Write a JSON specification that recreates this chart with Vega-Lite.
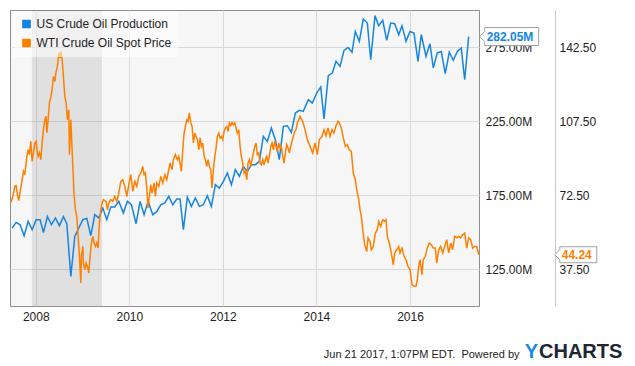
{
"$schema": "https://vega.github.io/schema/vega-lite/v6.json",
"width": 469, "height": 296,
"autosize": {"type": "none"},
"padding": {"left": 10, "top": 10, "right": 156, "bottom": 60},
"background": "white",
"config": {
 "view": {"fill": "#f6f6f6", "stroke": "#8f8f8f", "strokeWidth": 1},
 "font": "Liberation Sans",
 "axis": {"labelFont": "Liberation Sans", "labelFontSize": 12, "labelColor": "#222", "ticks": false, "tickSize": 0, "domain": false, "gridColor": "#d9d9d9", "gridWidth": 1, "titleFont": "Liberation Sans"},
 "legend": {"labelFont": "Liberation Sans", "labelFontSize": 12, "labelColor": "#222"}
},
"datasets": {
 "recession": [{"t": 2007.917, "t2": 2009.417}],
 "production": [
{"t":2007.496,"v":152.7},{"t":2007.581,"v":156.5},{"t":2007.667,"v":154.9},{"t":2007.752,"v":147.5},{"t":2007.838,"v":157.2},{"t":2007.923,"v":151.6},{"t":2008.009,"v":158.3},{"t":2008.094,"v":158.3},{"t":2008.165,"v":149.7},{"t":2008.250,"v":160.5},{"t":2008.335,"v":154.9},{"t":2008.421,"v":159.5},{"t":2008.506,"v":154.3},{"t":2008.592,"v":160.5},{"t":2008.665,"v":155.6},{"t":2008.750,"v":120.0},{"t":2008.835,"v":147.0},{"t":2008.921,"v":152.7},{"t":2009.006,"v":158.3},{"t":2009.092,"v":159.2},{"t":2009.177,"v":147.5},{"t":2009.263,"v":161.7},{"t":2009.348,"v":159.5},{"t":2009.434,"v":166.2},{"t":2009.519,"v":158.3},{"t":2009.605,"v":166.9},{"t":2009.690,"v":166.9},{"t":2009.776,"v":170.7},{"t":2009.874,"v":162.8},{"t":2009.959,"v":170.7},{"t":2010.045,"v":168.4},{"t":2010.145,"v":155.6},{"t":2010.231,"v":170.7},{"t":2010.316,"v":161.7},{"t":2010.402,"v":170.7},{"t":2010.502,"v":161.7},{"t":2010.588,"v":163.9},{"t":2010.673,"v":168.4},{"t":2010.759,"v":169.6},{"t":2010.844,"v":174.1},{"t":2010.929,"v":168.4},{"t":2011.015,"v":172.3},{"t":2011.085,"v":172.3},{"t":2011.156,"v":151.6},{"t":2011.241,"v":173.6},{"t":2011.327,"v":167.3},{"t":2011.412,"v":173.0},{"t":2011.498,"v":167.3},{"t":2011.583,"v":168.4},{"t":2011.669,"v":174.5},{"t":2011.754,"v":167.3},{"t":2011.840,"v":182.0},{"t":2011.925,"v":179.7},{"t":2012.011,"v":184.2},{"t":2012.096,"v":189.9},{"t":2012.182,"v":182.0},{"t":2012.267,"v":192.1},{"t":2012.353,"v":187.6},{"t":2012.438,"v":194.3},{"t":2012.524,"v":190.9},{"t":2012.609,"v":195.5},{"t":2012.694,"v":195.5},{"t":2012.780,"v":197.7},{"t":2012.865,"v":214.6},{"t":2012.951,"v":211.2},{"t":2013.036,"v":220.3},{"t":2013.122,"v":212.4},{"t":2013.207,"v":198.9},{"t":2013.293,"v":221.4},{"t":2013.378,"v":221.8},{"t":2013.464,"v":217.3},{"t":2013.549,"v":230.4},{"t":2013.635,"v":232.2},{"t":2013.718,"v":231.5},{"t":2013.827,"v":239.4},{"t":2013.912,"v":237.2},{"t":2014.006,"v":243.9},{"t":2014.092,"v":248.0},{"t":2014.162,"v":226.4},{"t":2014.254,"v":255.6},{"t":2014.340,"v":257.4},{"t":2014.419,"v":265.3},{"t":2014.504,"v":261.9},{"t":2014.590,"v":272.7},{"t":2014.675,"v":274.7},{"t":2014.761,"v":271.4},{"t":2014.831,"v":285.5},{"t":2014.917,"v":278.8},{"t":2015.002,"v":293.9},{"t":2015.088,"v":291.2},{"t":2015.160,"v":266.4},{"t":2015.252,"v":296.2},{"t":2015.331,"v":289.4},{"t":2015.417,"v":293.0},{"t":2015.502,"v":279.5},{"t":2015.588,"v":291.2},{"t":2015.673,"v":290.7},{"t":2015.759,"v":283.3},{"t":2015.829,"v":289.4},{"t":2015.915,"v":278.8},{"t":2016.000,"v":285.5},{"t":2016.085,"v":284.5},{"t":2016.171,"v":265.3},{"t":2016.241,"v":283.3},{"t":2016.342,"v":268.7},{"t":2016.427,"v":277.2},{"t":2016.498,"v":260.8},{"t":2016.583,"v":271.0},{"t":2016.669,"v":272.0},{"t":2016.754,"v":257.0},{"t":2016.840,"v":271.6},{"t":2016.925,"v":266.0},{"t":2017.011,"v":272.0},{"t":2017.096,"v":274.3},{"t":2017.169,"v":252.9},{"t":2017.254,"v":282.05}
 ],
 "price": [
{"t":2007.468,"v":69.0},{"t":2007.511,"v":71.8},{"t":2007.553,"v":76.6},{"t":2007.581,"v":76.9},{"t":2007.609,"v":72.6},{"t":2007.639,"v":69.9},{"t":2007.667,"v":74.2},{"t":2007.709,"v":79.7},{"t":2007.737,"v":83.7},{"t":2007.767,"v":82.1},{"t":2007.810,"v":90.8},{"t":2007.838,"v":93.9},{"t":2007.865,"v":91.6},{"t":2007.895,"v":97.9},{"t":2007.923,"v":88.4},{"t":2007.951,"v":92.4},{"t":2007.981,"v":97.1},{"t":2008.009,"v":97.9},{"t":2008.024,"v":93.9},{"t":2008.051,"v":90.8},{"t":2008.079,"v":92.4},{"t":2008.109,"v":89.2},{"t":2008.137,"v":97.1},{"t":2008.165,"v":103.4},{"t":2008.194,"v":108.1},{"t":2008.222,"v":109.7},{"t":2008.237,"v":101.8},{"t":2008.265,"v":108.1},{"t":2008.293,"v":116.0},{"t":2008.323,"v":118.9},{"t":2008.350,"v":122.3},{"t":2008.378,"v":128.6},{"t":2008.408,"v":126.2},{"t":2008.436,"v":131.0},{"t":2008.464,"v":133.3},{"t":2008.494,"v":139.7},{"t":2008.521,"v":137.3},{"t":2008.536,"v":140.4},{"t":2008.564,"v":136.5},{"t":2008.592,"v":128.6},{"t":2008.622,"v":119.1},{"t":2008.650,"v":116.0},{"t":2008.677,"v":108.1},{"t":2008.707,"v":112.8},{"t":2008.720,"v":91.6},{"t":2008.750,"v":108.1},{"t":2008.793,"v":86.0},{"t":2008.821,"v":71.8},{"t":2008.848,"v":65.5},{"t":2008.878,"v":62.4},{"t":2008.906,"v":52.9},{"t":2008.934,"v":43.5},{"t":2008.964,"v":30.9},{"t":2008.976,"v":43.5},{"t":2009.006,"v":48.2},{"t":2009.019,"v":40.3},{"t":2009.049,"v":37.2},{"t":2009.077,"v":40.3},{"t":2009.105,"v":38.7},{"t":2009.135,"v":35.6},{"t":2009.162,"v":43.5},{"t":2009.190,"v":49.8},{"t":2009.220,"v":52.9},{"t":2009.248,"v":49.8},{"t":2009.276,"v":48.2},{"t":2009.306,"v":49.8},{"t":2009.333,"v":47.4},{"t":2009.361,"v":59.3},{"t":2009.391,"v":65.5},{"t":2009.419,"v":68.7},{"t":2009.447,"v":70.3},{"t":2009.504,"v":69.5},{"t":2009.532,"v":65.5},{"t":2009.562,"v":68.7},{"t":2009.605,"v":70.3},{"t":2009.647,"v":69.5},{"t":2009.690,"v":71.8},{"t":2009.733,"v":69.5},{"t":2009.776,"v":73.4},{"t":2009.818,"v":78.9},{"t":2009.861,"v":79.7},{"t":2009.904,"v":76.6},{"t":2009.947,"v":71.8},{"t":2009.989,"v":77.4},{"t":2010.032,"v":82.1},{"t":2010.075,"v":74.2},{"t":2010.118,"v":78.9},{"t":2010.160,"v":76.6},{"t":2010.203,"v":81.3},{"t":2010.246,"v":82.9},{"t":2010.288,"v":86.0},{"t":2010.316,"v":82.1},{"t":2010.344,"v":82.9},{"t":2010.374,"v":75.8},{"t":2010.402,"v":66.4},{"t":2010.429,"v":71.8},{"t":2010.459,"v":77.4},{"t":2010.487,"v":73.4},{"t":2010.530,"v":78.2},{"t":2010.558,"v":71.8},{"t":2010.588,"v":78.2},{"t":2010.630,"v":76.6},{"t":2010.673,"v":81.3},{"t":2010.716,"v":78.2},{"t":2010.759,"v":82.1},{"t":2010.801,"v":79.7},{"t":2010.829,"v":82.9},{"t":2010.872,"v":87.6},{"t":2010.915,"v":84.5},{"t":2010.942,"v":89.2},{"t":2010.985,"v":91.6},{"t":2011.028,"v":89.2},{"t":2011.058,"v":90.8},{"t":2011.085,"v":87.6},{"t":2011.113,"v":83.7},{"t":2011.143,"v":93.9},{"t":2011.171,"v":101.8},{"t":2011.199,"v":104.9},{"t":2011.229,"v":108.1},{"t":2011.256,"v":107.3},{"t":2011.284,"v":111.3},{"t":2011.314,"v":106.6},{"t":2011.342,"v":104.9},{"t":2011.370,"v":97.1},{"t":2011.400,"v":101.8},{"t":2011.427,"v":100.2},{"t":2011.455,"v":98.7},{"t":2011.485,"v":93.9},{"t":2011.513,"v":99.5},{"t":2011.541,"v":95.5},{"t":2011.571,"v":97.1},{"t":2011.598,"v":90.8},{"t":2011.626,"v":89.2},{"t":2011.656,"v":86.0},{"t":2011.684,"v":89.2},{"t":2011.712,"v":86.0},{"t":2011.741,"v":84.5},{"t":2011.769,"v":75.8},{"t":2011.797,"v":84.5},{"t":2011.827,"v":90.8},{"t":2011.855,"v":94.7},{"t":2011.882,"v":100.2},{"t":2011.912,"v":101.8},{"t":2011.940,"v":99.5},{"t":2011.968,"v":100.2},{"t":2011.998,"v":98.7},{"t":2012.026,"v":102.6},{"t":2012.053,"v":104.2},{"t":2012.083,"v":104.9},{"t":2012.111,"v":102.6},{"t":2012.139,"v":106.6},{"t":2012.169,"v":105.3},{"t":2012.197,"v":106.8},{"t":2012.224,"v":105.8},{"t":2012.254,"v":106.6},{"t":2012.282,"v":104.2},{"t":2012.310,"v":101.8},{"t":2012.340,"v":103.4},{"t":2012.368,"v":95.5},{"t":2012.395,"v":90.8},{"t":2012.425,"v":87.6},{"t":2012.453,"v":82.9},{"t":2012.481,"v":83.7},{"t":2012.511,"v":79.7},{"t":2012.538,"v":87.6},{"t":2012.566,"v":89.2},{"t":2012.596,"v":86.0},{"t":2012.624,"v":89.2},{"t":2012.652,"v":92.4},{"t":2012.682,"v":95.5},{"t":2012.709,"v":97.1},{"t":2012.737,"v":91.6},{"t":2012.767,"v":92.4},{"t":2012.795,"v":87.6},{"t":2012.823,"v":86.8},{"t":2012.853,"v":89.2},{"t":2012.880,"v":86.8},{"t":2012.908,"v":89.2},{"t":2012.938,"v":90.8},{"t":2012.966,"v":87.6},{"t":2012.994,"v":90.8},{"t":2013.024,"v":95.5},{"t":2013.051,"v":97.1},{"t":2013.079,"v":93.9},{"t":2013.109,"v":97.9},{"t":2013.137,"v":95.5},{"t":2013.165,"v":93.1},{"t":2013.194,"v":97.1},{"t":2013.222,"v":94.7},{"t":2013.250,"v":95.5},{"t":2013.280,"v":90.8},{"t":2013.308,"v":87.6},{"t":2013.335,"v":92.4},{"t":2013.365,"v":96.3},{"t":2013.393,"v":94.7},{"t":2013.421,"v":92.4},{"t":2013.451,"v":95.5},{"t":2013.479,"v":97.9},{"t":2013.506,"v":100.2},{"t":2013.536,"v":102.6},{"t":2013.564,"v":103.4},{"t":2013.592,"v":106.6},{"t":2013.622,"v":108.1},{"t":2013.650,"v":109.7},{"t":2013.707,"v":107.3},{"t":2013.756,"v":103.4},{"t":2013.806,"v":98.7},{"t":2013.863,"v":95.5},{"t":2013.921,"v":92.4},{"t":2013.970,"v":97.1},{"t":2014.019,"v":91.6},{"t":2014.062,"v":98.7},{"t":2014.120,"v":100.2},{"t":2014.162,"v":103.4},{"t":2014.205,"v":100.5},{"t":2014.248,"v":104.2},{"t":2014.291,"v":100.2},{"t":2014.333,"v":103.4},{"t":2014.376,"v":101.8},{"t":2014.419,"v":105.3},{"t":2014.462,"v":107.3},{"t":2014.489,"v":106.6},{"t":2014.532,"v":104.2},{"t":2014.575,"v":99.5},{"t":2014.618,"v":95.5},{"t":2014.660,"v":96.3},{"t":2014.703,"v":93.9},{"t":2014.746,"v":93.1},{"t":2014.788,"v":82.9},{"t":2014.831,"v":79.7},{"t":2014.861,"v":75.0},{"t":2014.904,"v":70.3},{"t":2014.932,"v":65.5},{"t":2014.960,"v":62.4},{"t":2014.989,"v":56.1},{"t":2015.032,"v":49.0},{"t":2015.075,"v":45.8},{"t":2015.103,"v":52.2},{"t":2015.145,"v":50.6},{"t":2015.173,"v":46.6},{"t":2015.216,"v":48.2},{"t":2015.259,"v":54.5},{"t":2015.301,"v":56.1},{"t":2015.331,"v":60.0},{"t":2015.374,"v":57.6},{"t":2015.417,"v":60.8},{"t":2015.459,"v":60.0},{"t":2015.487,"v":60.8},{"t":2015.515,"v":52.9},{"t":2015.558,"v":49.8},{"t":2015.600,"v":45.1},{"t":2015.643,"v":39.5},{"t":2015.673,"v":45.1},{"t":2015.716,"v":46.6},{"t":2015.759,"v":48.2},{"t":2015.786,"v":45.1},{"t":2015.829,"v":47.4},{"t":2015.872,"v":43.5},{"t":2015.915,"v":41.9},{"t":2015.957,"v":38.7},{"t":2016.000,"v":37.2},{"t":2016.043,"v":30.1},{"t":2016.085,"v":29.3},{"t":2016.128,"v":29.3},{"t":2016.156,"v":32.4},{"t":2016.186,"v":38.7},{"t":2016.214,"v":41.9},{"t":2016.256,"v":34.8},{"t":2016.284,"v":41.9},{"t":2016.327,"v":43.5},{"t":2016.370,"v":47.4},{"t":2016.412,"v":49.8},{"t":2016.455,"v":49.0},{"t":2016.498,"v":47.4},{"t":2016.541,"v":47.4},{"t":2016.571,"v":40.3},{"t":2016.613,"v":46.6},{"t":2016.656,"v":48.2},{"t":2016.699,"v":45.1},{"t":2016.742,"v":48.2},{"t":2016.784,"v":51.4},{"t":2016.827,"v":45.1},{"t":2016.870,"v":49.8},{"t":2016.912,"v":46.6},{"t":2016.955,"v":52.9},{"t":2016.998,"v":52.2},{"t":2017.041,"v":52.9},{"t":2017.083,"v":52.2},{"t":2017.126,"v":53.7},{"t":2017.169,"v":54.5},{"t":2017.212,"v":47.4},{"t":2017.254,"v":52.2},{"t":2017.297,"v":51.4},{"t":2017.340,"v":47.4},{"t":2017.382,"v":48.2},{"t":2017.425,"v":48.2},{"t":2017.470,"v":44.24}
 ]
},
"encoding": {
 "x": {"field": "t", "type": "quantitative",
  "scale": {"domain": [2007.45, 2017.475], "nice": false, "zero": false},
  "axis": {"values": [2008, 2010, 2012, 2014, 2016], "format": "d", "grid": true, "labelPadding": 5, "labelFlush": false,
   "title": "Jun 21 2017, 1:07PM EDT.\u00a0 Powered by", "titleX": 509, "titleY": 51, "titleAlign": "right", "titleBaseline": "alphabetic",
   "titleFontSize": 11, "titleFontWeight": "normal", "titleColor": "#222"}}
},
"layer": [
 {"data": {"name": "recession"}, "mark": {"type": "rect", "color": "#000000", "opacity": 0.085}, "encoding": {"x2": {"field": "t2"}}},
 {"data": {"name": "production"},
  "encoding": {"y": {"field": "v", "type": "quantitative", "scale": {"domain": [100, 300], "nice": false, "zero": false},
   "axis": {"orient": "right", "values": [125, 175, 225, 275], "labelExpr": "format(datum.value, '.2f') + 'M'", "grid": true, "labelPadding": 6, "zindex": 0,
    "title": "Y", "titleAngle": 0, "titleX": 58.5, "titleY": 347.3, "titleAlign": "right", "titleBaseline": "alphabetic", "titleFontSize": 20, "titleFontWeight": "bold", "titleColor": "#1a8ae5"}}},
  "layer": [
   {"mark": {"type": "line", "strokeWidth": 1.5},
    "encoding": {"color": {"datum": "US Crude Oil Production", "type": "nominal",
     "scale": {"domain": ["US Crude Oil Production", "WTI Crude Oil Spot Price"], "range": ["#1585e0", "#ff7f00"]},
     "legend": {"title": null, "orient": "none", "legendX": 1.5, "legendY": 1, "padding": 7, "rowPadding": 5, "symbolOffset": 2, "labelOffset": 4,
      "symbolType": "square", "symbolSize": 52, "fillColor": "rgba(255,255,255,0.55)",
      "encode": {"symbols": {"update": {"fill": {"scale": "color", "field": "value"}, "stroke": {"value": "transparent"}, "shape": {"value": "square"}, "opacity": {"value": 1}}}}}}}},
   {"transform": [{"joinaggregate": [{"op": "max", "field": "t", "as": "tmax"}]}, {"filter": "datum.t === datum.tmax"}],
    "mark": {"type": "point", "shape": "M11,0L16,-5L16,-9L70,-9L70,9L16,9L16,5Z", "size": 4, "filled": true, "fill": "#ffffff", "stroke": "#a0a0a0", "strokeWidth": 1, "opacity": 1}},
   {"transform": [{"joinaggregate": [{"op": "max", "field": "t", "as": "tmax"}]}, {"filter": "datum.t === datum.tmax"}, {"calculate": "format(datum.v, '.2f') + 'M'", "as": "label"}],
    "mark": {"type": "text", "dx": 18, "align": "left", "baseline": "middle", "fontWeight": "bold", "fontSize": 12, "font": "Liberation Sans", "color": "#1585e0"},
    "encoding": {"text": {"field": "label"}}}
  ]},
 {"data": {"name": "price"},
  "encoding": {"y": {"field": "v", "type": "quantitative", "scale": {"domain": [20, 160], "nice": false, "zero": false},
   "axis": {"orient": "right", "offset": 76, "values": [37.5, 72.5, 107.5, 142.5], "format": ".2f", "grid": false, "domain": true, "domainColor": "#c8c8c8", "labelPadding": 4,
    "title": "CHARTS", "titleAngle": 0, "titleX": -16.5, "titleY": 347.3, "titleAlign": "left", "titleBaseline": "alphabetic", "titleFontSize": 20, "titleFontWeight": "bold", "titleColor": "#1c2733"}}},
  "layer": [
   {"mark": {"type": "line", "strokeWidth": 1.5},
    "encoding": {"color": {"datum": "WTI Crude Oil Spot Price", "type": "nominal"}}},
   {"transform": [{"joinaggregate": [{"op": "max", "field": "t", "as": "tmax"}]}, {"filter": "datum.t === datum.tmax"}],
    "mark": {"type": "point", "shape": "M76,0L81,-5L81,-8L118,-8L118,8L81,8L81,5Z", "size": 4, "filled": true, "fill": "#ffffff", "stroke": "#a0a0a0", "strokeWidth": 1, "opacity": 1}},
   {"transform": [{"joinaggregate": [{"op": "max", "field": "t", "as": "tmax"}]}, {"filter": "datum.t === datum.tmax"}, {"calculate": "format(datum.v, '.2f')", "as": "label"}],
    "mark": {"type": "text", "dx": 83, "align": "left", "baseline": "middle", "fontWeight": "bold", "fontSize": 12, "font": "Liberation Sans", "color": "#ff7f00"},
    "encoding": {"text": {"field": "label"}}}
  ]}
],
"resolve": {"scale": {"y": "independent"}}
}
